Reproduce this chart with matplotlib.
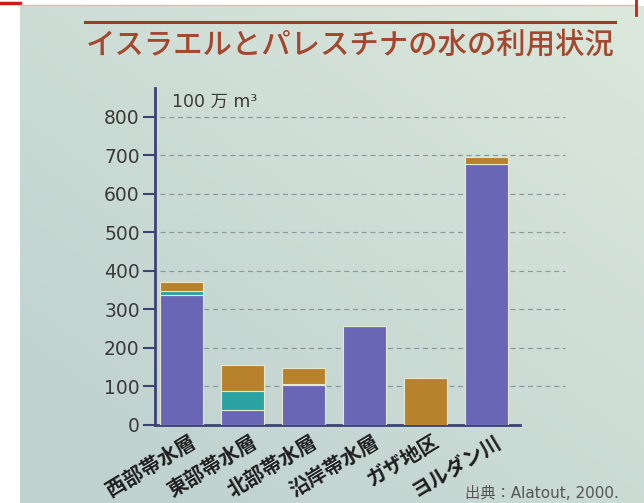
import matplotlib
matplotlib.use("Agg")
import matplotlib.pyplot as plt
import matplotlib.transforms as mtransforms
import numpy as np

categories = ["西部帯水層", "東部帯水層", "北部帯水層", "沿岸帯水層", "ガザ地区", "ヨルダン川"]
purple_vals = [338, 40, 104, 257, 0, 677]
teal_vals = [9, 48, 3, 0, 0, 0]
brown_vals = [23, 68, 41, 0, 122, 20]
yticks = [0, 100, 200, 300, 400, 500, 600, 700, 800]

title = "イスラエルとパレスチナの水の利用状況"
unit = "100 万 m³"
source = "出典：Alatout, 2000."

C_PURPLE = "#6a66b6"
C_TEAL = "#2ba3a3"
C_BROWN = "#b8822c"
C_AXIS = "#3c4275"
C_TEXT = "#3a3a3a"

fig = plt.figure(figsize=(6.44, 5.03), dpi=100)
fig.patch.set_facecolor("white")

# photographed background (slide area)
bg = fig.add_axes([20/644, 0, 1 - 20/644, 1 - 6/503], zorder=-10)
yy, xx = np.mgrid[0:1:200j, 0:1:200j]
top = np.array([0.86, 0.91, 0.86])
botleft = np.array([0.71, 0.79, 0.80])
w = np.clip(0.55 * (1 - xx) + 0.6 * yy, 0, 1)[..., None] * 0.7
img = top * (1 - w) + botleft * w
bg.imshow(img, aspect="auto", extent=[0, 1, 0, 1], origin="upper")
bg.set_axis_off()

# frame lines at top
fig.add_artist(plt.Line2D([0, 20/644], [1 - 3/503] * 2, color="#c81e1e", lw=2.5))
fig.add_artist(plt.Line2D([20/644, 636/644], [1 - 5/503] * 2, color="#f0b4b4", lw=1))
fig.add_artist(plt.Line2D([636/644] * 2, [1, 1 - 15/503], color="#c81e1e", lw=2))

# title and rule
fig.add_artist(plt.Line2D([85/644, 615/644], [1 - 22/503] * 2, color="#9a3b2c", lw=2.2))
fig.text(350/644, 1 - 45/503, title, ha="center", va="center", fontsize=21.2,
         fontweight="medium", color="#a3482f", family=["Noto Sans CJK JP", "DejaVu Sans"])

ax = fig.add_axes([155/644, (503 - 425)/503, (520 - 155)/644, (425 - 88)/503])
ax.patch.set_alpha(0)
x = np.arange(len(categories))
width = 0.70
ec = "#e6e8cc"
ax.bar(x, purple_vals, width, color=C_PURPLE, edgecolor=ec, linewidth=0.8, zorder=3)
ax.bar(x, teal_vals, width, bottom=purple_vals, color=C_TEAL, edgecolor=ec, linewidth=0.8, zorder=3)
b2 = [p + t for p, t in zip(purple_vals, teal_vals)]
ax.bar(x, brown_vals, width, bottom=b2, color=C_BROWN, edgecolor=ec, linewidth=0.8, zorder=3)

ax.set_xlim(-0.434, 5.55)
ax.set_ylim(0, 875)
for t in yticks[1:]:
    ax.plot([-0.36, 6.29], [t, t], ls=(0, (4, 3)), color="#8d989e", lw=0.9,
            clip_on=False, zorder=1)

for s in ["top", "right"]:
    ax.spines[s].set_visible(False)
for s in ["left", "bottom"]:
    ax.spines[s].set_color(C_AXIS)
    ax.spines[s].set_linewidth(2)

ax.set_yticks(yticks)
ax.set_yticklabels([str(v) for v in yticks], family="DejaVu Sans", fontsize=13.5, color=C_TEXT)
ax.tick_params(axis="y", direction="out", length=9, width=1.5, color=C_AXIS, pad=2)
ax.set_xticks(x)
ax.set_xticklabels(categories, rotation=31, ha="right", va="top", rotation_mode="anchor",
                   fontsize=14.5, fontweight="bold", color="#1e1e1e",
                   family=["Noto Sans CJK JP", "DejaVu Sans"])
ax.tick_params(axis="x", length=0, pad=4)
offset = mtransforms.ScaledTranslation(7/100, 0, fig.dpi_scale_trans)
for lab in ax.get_xticklabels():
    lab.set_transform(lab.get_transform() + offset)

fig.text(172/644, 1 - 102/503, unit, ha="left", va="center", fontsize=12.5, color=C_TEXT,
         family=["DejaVu Sans", "Noto Sans CJK JP"])
fig.text(465/644, 1 - 493/503, source, ha="left", va="center", fontsize=11, color="#555555",
         family=["DejaVu Sans", "Noto Sans CJK JP"])

fig.savefig("out.png", dpi=100)
